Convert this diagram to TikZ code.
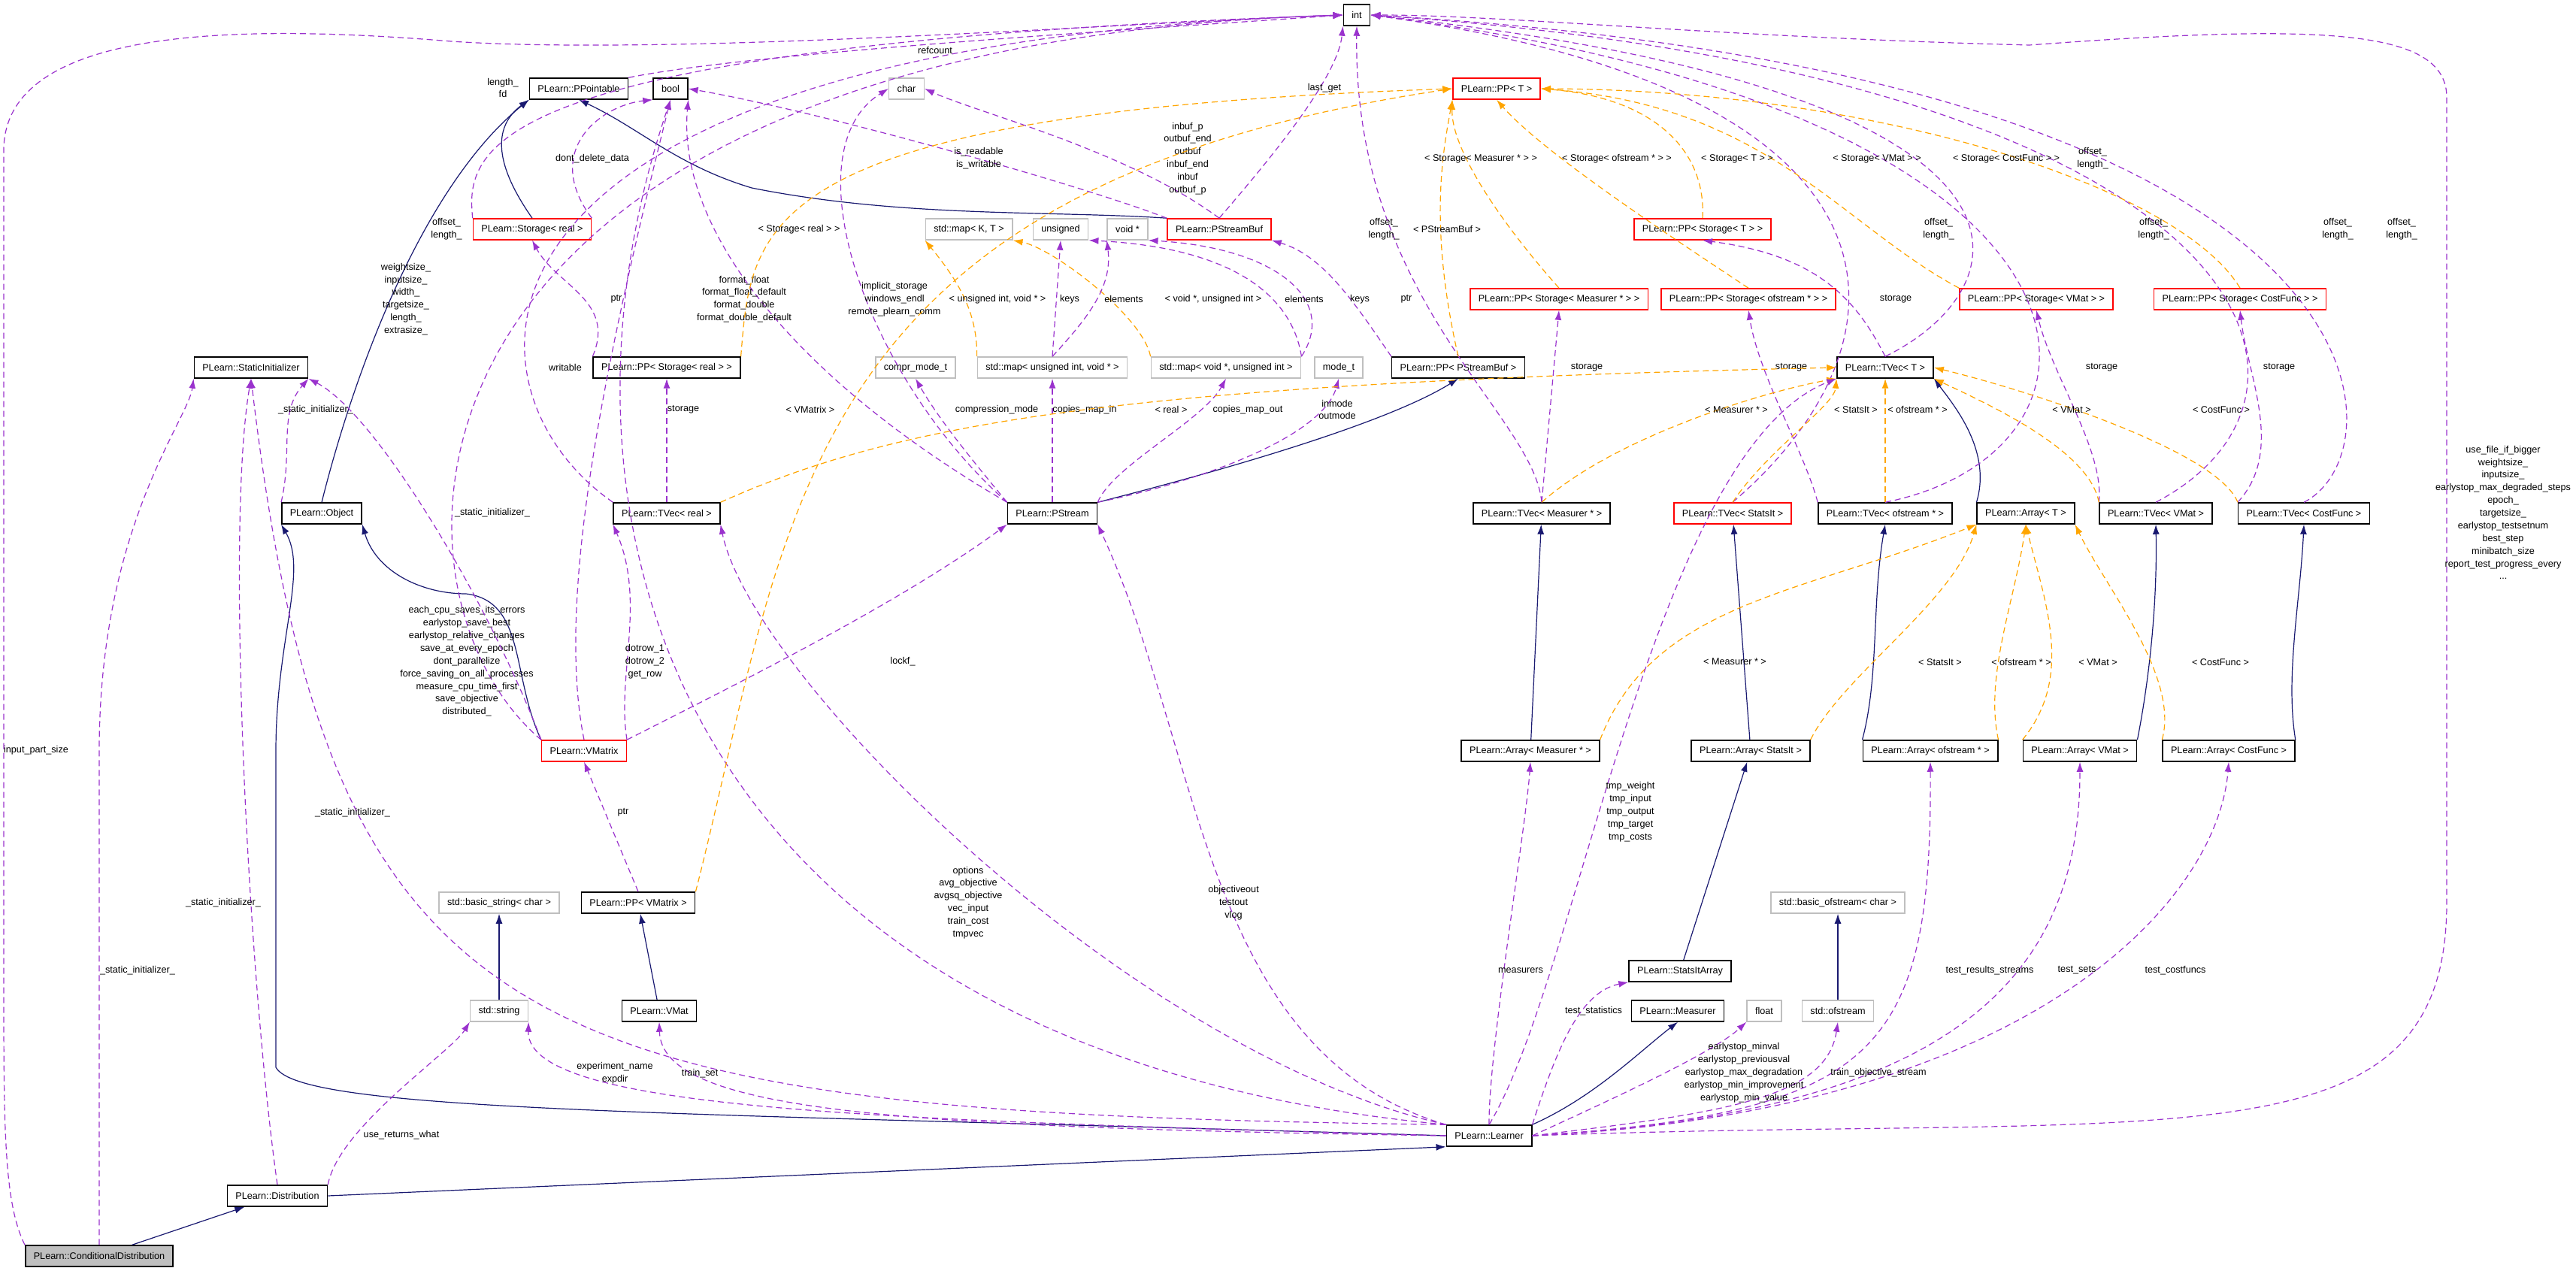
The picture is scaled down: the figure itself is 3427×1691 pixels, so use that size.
\documentclass[tikz,border=0pt]{standalone}
\usepackage{fontspec}
\setmainfont{Liberation Sans}
\usetikzlibrary{arrows.meta}
\usetikzlibrary{positioning}

\definecolor{navyline}{HTML}{191970}
\definecolor{useline}{HTML}{9A32CD}
\definecolor{tplline}{HTML}{FFA500}
\definecolor{grayedge}{HTML}{BFBFBF}

\tikzset{
  box/.style={draw=black, line width=0.15mm, fill=white, minimum height=2.8mm, inner xsep=1.1mm, inner ysep=0pt, font=\fontsize{3.6}{4.6}\selectfont},
  redbox/.style={box, draw=red},
  graybox/.style={box, draw=grayedge},
  focusbox/.style={box, fill=grayedge},
  lbl/.style={align=center, inner sep=0pt, font=\fontsize{3.6}{4.8}\selectfont},
  inh/.style={draw=navyline, line width=0.12mm, -{Latex[length=1.3mm,width=0.9mm]}},
  use/.style={draw=useline, line width=0.12mm, dash pattern=on 0.8mm off 0.5mm, -{Latex[length=1.3mm,width=0.9mm]}},
  tpl/.style={draw=tplline, line width=0.12mm, dash pattern=on 0.8mm off 0.5mm, -{Latex[length=1.3mm,width=0.9mm]}}
}
\newcommand{\elabel}[4]{\node[lbl] (#1) at (#2,#3) {#4};}

\begin{document}
\begin{tikzpicture}[x=0.1mm, y=-0.1mm]
  \useasboundingbox (0,0) rectangle (3427,1691);

  % top rows
  \node[box] (int) at (1805,20) {int};
  \node[box] (ppt) at (770,118) {PLearn::PPointable};
  \node[box] (bool) at (892,118) {bool};
  \node[graybox] (char) at (1206,118) {char};
  \node[redbox] (ppT) at (1991,118) {PLearn::PP< T >};
  \node[redbox] (stor) at (708,305) {PLearn::Storage< real >};
  \node[graybox] (mapkt) at (1289,305) {std::map< K, T >};
  \node[graybox] (uns) at (1411,305) {unsigned};
  \node[graybox] (voidp) at (1500,305) {void *};
  \node[redbox] (psb) at (1622,305) {PLearn::PStreamBuf};
  \node[redbox] (ppst) at (2265,305) {PLearn::PP< Storage< T > >};
  \node[redbox] (ppsm) at (2074,398) {PLearn::PP< Storage< Measurer * > >};
  \node[redbox] (ppso) at (2326,398) {PLearn::PP< Storage< ofstream * > >};
  \node[redbox] (ppsv) at (2709,398) {PLearn::PP< Storage< VMat > >};
  \node[redbox] (ppsc) at (2980,398) {PLearn::PP< Storage< CostFunc > >};
  \node[box] (sinit) at (334,489) {PLearn::StaticInitializer};
  \node[box] (ppsr) at (887,489) {PLearn::PP< Storage< real > >};
  \node[graybox] (cmode) at (1218,489) {compr\_mode\_t};
  \node[graybox] (mapuv) at (1400,489) {std::map< unsigned int, void * >};
  \node[graybox] (mapvu) at (1631,489) {std::map< void *, unsigned int >};
  \node[graybox] (modet) at (1781,489) {mode\_t};
  \node[box] (pppsb) at (1940,489) {PLearn::PP< PStreamBuf >};
  \node[box] (tvt) at (2508,489) {PLearn::TVec< T >};

  % middle rows
  \node[box] (obj) at (428,683) {PLearn::Object};
  \node[box] (tvr) at (887,683) {PLearn::TVec< real >};
  \node[box] (pstr) at (1400,683) {PLearn::PStream};
  \node[box] (tvm) at (2051,683) {PLearn::TVec< Measurer * >};
  \node[redbox] (tvs) at (2305,683) {PLearn::TVec< StatsIt >};
  \node[box] (tvo) at (2508,683) {PLearn::TVec< ofstream * >};
  \node[box] (arrt) at (2695,683) {PLearn::Array< T >};
  \node[box] (tvv) at (2868,683) {PLearn::TVec< VMat >};
  \node[box] (tvc) at (3065,683) {PLearn::TVec< CostFunc >};
  \node[redbox] (vmx) at (777,999) {PLearn::VMatrix};
  \node[box] (arm) at (2036,999) {PLearn::Array< Measurer * >};
  \node[box] (ars) at (2329,999) {PLearn::Array< StatsIt >};
  \node[box] (aro) at (2568,999) {PLearn::Array< ofstream * >};
  \node[box] (arv) at (2767,999) {PLearn::Array< VMat >};
  \node[box] (arc) at (2965,999) {PLearn::Array< CostFunc >};

  % bottom rows
  \node[graybox] (bstr) at (664,1201) {std::basic\_string< char >};
  \node[box] (ppvm) at (849,1201) {PLearn::PP< VMatrix >};
  \node[graybox] (bofs) at (2445,1201) {std::basic\_ofstream< char >};
  \node[box] (sia) at (2235,1292) {PLearn::StatsItArray};
  \node[graybox] (str) at (664,1345) {std::string};
  \node[box] (vmat) at (877,1345) {PLearn::VMat};
  \node[box] (meas) at (2232,1345) {PLearn::Measurer};
  \node[graybox] (flt) at (2347,1345) {float};
  \node[graybox] (ofs) at (2445,1345) {std::ofstream};
  \node[box] (lrn) at (1981,1511) {PLearn::Learner};
  \node[box] (dist) at (369,1591) {PLearn::Distribution};
  \node[focusbox] (cdist) at (132,1671) {PLearn::ConditionalDistribution};

  % inheritance
  \draw[inh] (cdist) -- (dist);
  \draw[inh] (dist.east) -- (lrn.south west);
  \draw[inh] (lrn.west) .. controls (900,1480) and (400,1480) .. (367,1420) -- (367,1000) .. controls (367,850) and (410,760) .. (obj.south west);
  \draw[inh] (vmx.north west) .. controls (680,900) and (700,800) .. (620,790) .. controls (560,790) and (500,760) .. (obj.south east);
  \draw[inh] (obj.north) .. controls (470,500) and (560,250) .. (ppt.south west);
  \draw[inh] (stor.north) .. controls (680,250) and (640,180) .. (ppt.south west);
  \draw[inh] (psb.north west) .. controls (1400,280) and (1200,290) .. (1000,250) .. controls (900,220) and (850,170) .. (ppt.south);
  \draw[inh] (pstr.north east) .. controls (1650,620) and (1850,560) .. (pppsb.south);
  \draw[inh] (arm) -- (tvm);
  \draw[inh] (ars) -- (tvs);
  \draw[inh] (aro.north west) .. controls (2500,900) and (2490,800) .. (tvo.south);
  \draw[inh] (arv.north east) .. controls (2860,900) and (2870,800) .. (tvv.south);
  \draw[inh] (arc.north east) .. controls (3040,900) and (3060,800) .. (tvc.south);
  \draw[inh] (arrt.north west) .. controls (2650,600) and (2600,540) .. (tvt.south east);
  \draw[inh] (sia) -- (ars);
  \draw[inh] (lrn.north east) .. controls (2120,1460) and (2180,1400) .. (meas.south);
  \draw[inh] (vmat) -- (ppvm);
  \draw[inh] (str) -- (bstr);
  \draw[inh] (ofs) -- (bofs);

  % usage into int
  \draw[use] (cdist.north west) .. controls (5,1600) and (5,1500) .. (5,1300) -- (5,200) .. controls (5,40) and (300,30) .. (600,55) .. controls (900,75) and (1500,30) .. (int.west);
  \draw[use] (ppt.north east) .. controls (1000,70) and (1500,40) .. (int.west);
  \draw[use] (stor.north west) .. controls (620,200) and (630,60) .. (int.west);
  \draw[use] (tvr.north west) .. controls (600,520) and (560,60) .. (int.west);
  \draw[use] (vmx.north west) .. controls (480,780) and (500,60) .. (int.west);
  \draw[use] (psb.north) .. controls (1700,200) and (1780,100) .. (int.south west);
  \draw[use] (tvm.north) .. controls (2040,550) and (1800,400) .. (int.south);
  \draw[use] (tvs.north) .. controls (2560,450) and (2560,120) .. (int.east);
  \draw[use] (tvt.north) .. controls (2700,380) and (2760,120) .. (int.east);
  \draw[use] (tvo.north) .. controls (2850,600) and (2850,150) .. (int.east);
  \draw[use] (tvv.north) .. controls (3150,520) and (3000,100) .. (int.east);
  \draw[use] (tvc.north) .. controls (3200,600) and (3200,100) .. (int.east);
  \draw[use] (lrn.east) .. controls (2900,1480) and (3255,1560) .. (3255,1200) -- (3255,130) .. controls (3255,40) and (3100,30) .. (2700,60) .. controls (2300,50) and (2000,20) .. (int.east);
  \elabel{lrefc}{1244}{67}{refcount}
  \elabel{llenfd}{669}{117}{length\_\\fd}
  \elabel{lofs1}{594}{305}{offset\_\\length\_}
  \elabel{lsizes}{540}{398}{weightsize\_\\inputsize\_\\width\_\\targetsize\_\\length\_\\extrasize\_}
  \elabel{llastget}{1762}{117}{last\_get}
  \elabel{lofs2}{1841}{305}{offset\_\\length\_}
  \elabel{lofs3}{2579}{305}{offset\_\\length\_}
  \elabel{lofs4}{2784}{211}{offset\_\\length\_}
  \elabel{lofs5}{2865}{305}{offset\_\\length\_}
  \elabel{lofs6}{3110}{305}{offset\_\\length\_}
  \elabel{lofs7}{3195}{305}{offset\_\\length\_}
  \elabel{linput}{48}{998}{input\_part\_size}
  \elabel{llrnint}{3330}{682}{use\_file\_if\_bigger\\weightsize\_\\inputsize\_\\earlystop\_max\_degraded\_steps\\epoch\_\\targetsize\_\\earlystop\_testsetnum\\best\_step\\minibatch\_size\\report\_test\_progress\_every\\...}

  % usage into bool and char
  \draw[use] (stor.north east) .. controls (720,200) and (800,140) .. (bool.south west);
  \draw[use] (vmx.north) .. controls (740,800) and (800,500) .. (bool.south);
  \draw[use] (psb.north west) .. controls (1450,250) and (1100,150) .. (bool.east);
  \draw[use] (pstr.north west) .. controls (1050,500) and (900,300) .. (bool.south east);
  \draw[use] (lrn.north west) .. controls (900,1400) and (700,700) .. (bool.south);
  \draw[use] (psb.north) .. controls (1500,200) and (1300,150) .. (char.east);
  \draw[use] (pstr.north west) .. controls (1150,500) and (1050,200) .. (char.west);
  \elabel{ldont}{788}{211}{dont\_delete\_data}
  \elabel{lwrit}{752}{489}{writable}
  \elabel{lreadw}{1302}{211}{is\_readable\\is\_writable}
  \elabel{lformat}{990}{398}{format\_float\\format\_float\_default\\format\_double\\format\_double\_default}
  \elabel{limpl}{1190}{398}{implicit\_storage\\windows\_endl\\remote\_plearn\_comm}
  \elabel{lcpu}{621}{880}{each\_cpu\_saves\_its\_errors\\earlystop\_save\_best\\earlystop\_relative\_changes\\save\_at\_every\_epoch\\dont\_parallelize\\force\_saving\_on\_all\_processes\\measure\_cpu\_time\_first\\save\_objective\\distributed\_}
  \elabel{linbuf}{1580}{211}{inbuf\_p\\outbuf\_end\\outbuf\\inbuf\_end\\inbuf\\outbuf\_p}

  % static initializer
  \draw[use] (obj.north west) .. controls (390,600) and (370,550) .. (sinit.south east);
  \draw[use] (vmx.north west) .. controls (650,800) and (500,550) .. (sinit.south east);
  \draw[use] (dist.north) .. controls (330,1300) and (300,700) .. (sinit.south);
  \draw[use] (cdist.north) -- (132,1000) .. controls (132,700) and (250,560) .. (sinit.south west);
  \draw[use] (lrn.north west) .. controls (700,1480) and (440,1400) .. (sinit.south);
  \elabel{lsi1}{420}{545}{\_static\_initializer\_}
  \elabel{lsi2}{655}{682}{\_static\_initializer\_}
  \elabel{lsi3}{297}{1201}{\_static\_initializer\_}
  \elabel{lsi4}{183}{1291}{\_static\_initializer\_}
  \elabel{lsi5}{469}{1081}{\_static\_initializer\_}

  % storages and pointers
  \draw[use] (ppsr.north west) .. controls (820,400) and (740,380) .. (stor.south);
  \draw[use] (tvr.north) -- (ppsr.south);
  \draw[use] (pppsb.north west) .. controls (1800,400) and (1760,340) .. (psb.south east);
  \draw[use] (tvt.north) .. controls (2470,400) and (2420,340) .. (ppst.south);
  \draw[use] (tvm.north) -- (ppsm.south);
  \draw[use] (tvo.north west) .. controls (2400,600) and (2340,500) .. (ppso.south);
  \draw[use] (tvv.north west) .. controls (2800,600) and (2730,500) .. (ppsv.south);
  \draw[use] (tvc.north west) .. controls (3040,600) and (2990,500) .. (ppsc.south);
  \draw[use] (ppvm.north) -- (vmx.south);
  \elabel{lptr1}{820}{398}{ptr}
  \elabel{lsto1}{909}{545}{storage}
  \elabel{lptr2}{1871}{398}{ptr}
  \elabel{lsto2}{2522}{398}{storage}
  \elabel{lsto3}{2111}{489}{storage}
  \elabel{lsto4}{2383}{489}{storage}
  \elabel{lsto5}{2796}{489}{storage}
  \elabel{lsto6}{3032}{489}{storage}
  \elabel{lptr3}{829}{1081}{ptr}

  % templates into PP< T >
  \draw[tpl] (ppsr.north east) .. controls (1000,300) and (1000,150) .. (ppT.west);
  \draw[tpl] (ppvm.north east) .. controls (1050,700) and (1050,250) .. (ppT.west);
  \draw[tpl] (pppsb.north) .. controls (1900,300) and (1920,200) .. (ppT.south west);
  \draw[tpl] (ppsm.north) .. controls (2000,300) and (1930,200) .. (ppT.south west);
  \draw[tpl] (ppso.north) .. controls (2200,300) and (2050,200) .. (ppT.south);
  \draw[tpl] (ppst.north) .. controls (2270,200) and (2200,130) .. (ppT.east);
  \draw[tpl] (ppsv.north west) .. controls (2450,300) and (2350,140) .. (ppT.east);
  \draw[tpl] (ppsc.north) .. controls (2900,250) and (2500,120) .. (ppT.east);
  \elabel{ltr}{1063}{305}{< Storage< real > >}
  \elabel{ltvmx}{1078}{545}{< VMatrix >}
  \elabel{ltpsb}{1925}{305}{< PStreamBuf >}
  \elabel{ltsm}{1970}{211}{< Storage< Measurer * > >}
  \elabel{ltso}{2151}{211}{< Storage< ofstream * > >}
  \elabel{ltst}{2311}{211}{< Storage< T > >}
  \elabel{ltsv}{2497}{211}{< Storage< VMat > >}
  \elabel{ltsc}{2669}{211}{< Storage< CostFunc > >}

  % maps
  \draw[tpl] (mapuv.north west) .. controls (1300,420) and (1280,380) .. (mapkt.south west);
  \draw[tpl] (mapvu.north west) .. controls (1520,420) and (1400,330) .. (mapkt.south east);
  \draw[use] (mapuv.north) -- (uns.south);
  \draw[use] (mapuv.north) .. controls (1450,420) and (1480,380) .. (voidp.south west);
  \draw[use] (mapvu.north east) .. controls (1720,400) and (1650,330) .. (uns.south east);
  \draw[use] (mapvu.north east) .. controls (1780,400) and (1700,330) .. (voidp.south east);
  \elabel{ltuv}{1327}{398}{< unsigned int, void * >}
  \elabel{lkeys1}{1423}{398}{keys}
  \elabel{lel1}{1495}{398}{elements}
  \elabel{ltvu}{1614}{398}{< void *, unsigned int >}
  \elabel{lel2}{1735}{398}{elements}
  \elabel{lkeys2}{1809}{398}{keys}

  % PStream members
  \draw[use] (pstr.north west) .. controls (1300,620) and (1250,560) .. (cmode.south);
  \draw[use] (pstr.north) -- (mapuv.south);
  \draw[use] (pstr.north east) .. controls (1480,620) and (1600,560) .. (mapvu.south);
  \draw[use] (pstr.north east) .. controls (1600,640) and (1760,580) .. (modet.south);
  \elabel{lcomp}{1326}{545}{compression\_mode}
  \elabel{lcin}{1443}{545}{copies\_map\_in}
  \elabel{lcout}{1660}{545}{copies\_map\_out}
  \elabel{lmode}{1779}{545}{inmode\\outmode}

  % templates into TVec< T > and Array< T >
  \draw[tpl] (tvr.north east) .. controls (1200,560) and (1500,510) .. (tvt.west);
  \draw[tpl] (tvm.north) .. controls (2150,580) and (2350,520) .. (tvt.south west);
  \draw[tpl] (tvs.north) .. controls (2350,600) and (2440,540) .. (tvt.south west);
  \draw[tpl] (tvo.north) -- (tvt.south);
  \draw[tpl] (tvv.north west) .. controls (2780,600) and (2650,540) .. (tvt.south east);
  \draw[tpl] (tvc.north west) .. controls (2950,600) and (2700,520) .. (tvt.east);
  \elabel{ltreal}{1558}{545}{< real >}
  \elabel{ltmeas}{2310}{545}{< Measurer * >}
  \elabel{ltstat}{2469}{545}{< StatsIt >}
  \elabel{ltofs}{2551}{545}{< ofstream * >}
  \elabel{ltvmat}{2756}{545}{< VMat >}
  \elabel{ltcost}{2955}{545}{< CostFunc >}
  \draw[tpl] (arm.north east) .. controls (2200,800) and (2400,790) .. (arrt.south west);
  \draw[tpl] (ars.north east) .. controls (2450,900) and (2600,800) .. (arrt.south west);
  \draw[tpl] (aro.north east) .. controls (2640,900) and (2680,800) .. (arrt.south);
  \draw[tpl] (arv.north west) .. controls (2760,900) and (2720,800) .. (arrt.south);
  \draw[tpl] (arc.north west) .. controls (2900,900) and (2800,780) .. (arrt.south east);
  \elabel{lamea}{2308}{880}{< Measurer * >}
  \elabel{lasta}{2581}{881}{< StatsIt >}
  \elabel{laofs}{2689}{881}{< ofstream * >}
  \elabel{lavm}{2791}{881}{< VMat >}
  \elabel{lacf}{2954}{881}{< CostFunc >}

  % VMatrix members
  \draw[use] (vmx.north east) .. controls (820,900) and (860,800) .. (tvr.south west);
  \draw[use] (vmx.north east) .. controls (1000,900) and (1200,800) .. (pstr.south west);
  \elabel{ldot}{858}{880}{dotrow\_1\\dotrow\_2\\get\_row}
  \elabel{llock}{1201}{880}{lockf\_}

  % Learner members
  \draw[use] (lrn.north west) .. controls (1500,1400) and (1000,900) .. (tvr.south east);
  \draw[use] (lrn.north west) .. controls (1600,1400) and (1600,1000) .. (pstr.south east);
  \draw[use] (lrn.north) .. controls (2100,1300) and (2200,600) .. (tvt.south west);
  \draw[use] (lrn.north) .. controls (1980,1400) and (2030,1100) .. (arm.south);
  \draw[use] (lrn.north east) .. controls (2070,1400) and (2100,1320) .. (sia.south west);
  \draw[use] (lrn.east) .. controls (2150,1460) and (2280,1400) .. (flt.south west);
  \draw[use] (lrn.east) .. controls (2300,1480) and (2430,1460) .. (ofs.south);
  \draw[use] (lrn.east) .. controls (2500,1480) and (2570,1400) .. (aro.south);
  \draw[use] (lrn.east) .. controls (2600,1480) and (2767,1300) .. (arv.south);
  \draw[use] (lrn.east) .. controls (2700,1480) and (2950,1200) .. (arc.south);
  \draw[use] (lrn.west) .. controls (1200,1490) and (700,1480) .. (str.south east);
  \draw[use] (lrn.west) .. controls (1200,1500) and (880,1480) .. (vmat.south);
  \draw[use] (dist.north east) .. controls (450,1500) and (600,1400) .. (str.south west);
  \elabel{lopts}{1288}{1201}{options\\avg\_objective\\avgsq\_objective\\vec\_input\\train\_cost\\tmpvec}
  \elabel{lobjout}{1641}{1201}{objectiveout\\testout\\vlog}
  \elabel{ltmp}{2169}{1080}{tmp\_weight\\tmp\_input\\tmp\_output\\tmp\_target\\tmp\_costs}
  \elabel{lmeas}{2023}{1291}{measurers}
  \elabel{ltstats}{2120}{1345}{test\_statistics}
  \elabel{learly}{2320}{1427}{earlystop\_minval\\earlystop\_previousval\\earlystop\_max\_degradation\\earlystop\_min\_improvement\\earlystop\_min\_value}
  \elabel{ltos}{2499}{1427}{train\_objective\_stream}
  \elabel{ltrs}{2647}{1291}{test\_results\_streams}
  \elabel{ltsets}{2763}{1291}{test\_sets}
  \elabel{ltcf}{2894}{1291}{test\_costfuncs}
  \elabel{lexp}{818}{1428}{experiment\_name\\expdir}
  \elabel{ltrain}{931}{1428}{train\_set}
  \elabel{luse}{534}{1510}{use\_returns\_what}
\end{tikzpicture}
\end{document}
